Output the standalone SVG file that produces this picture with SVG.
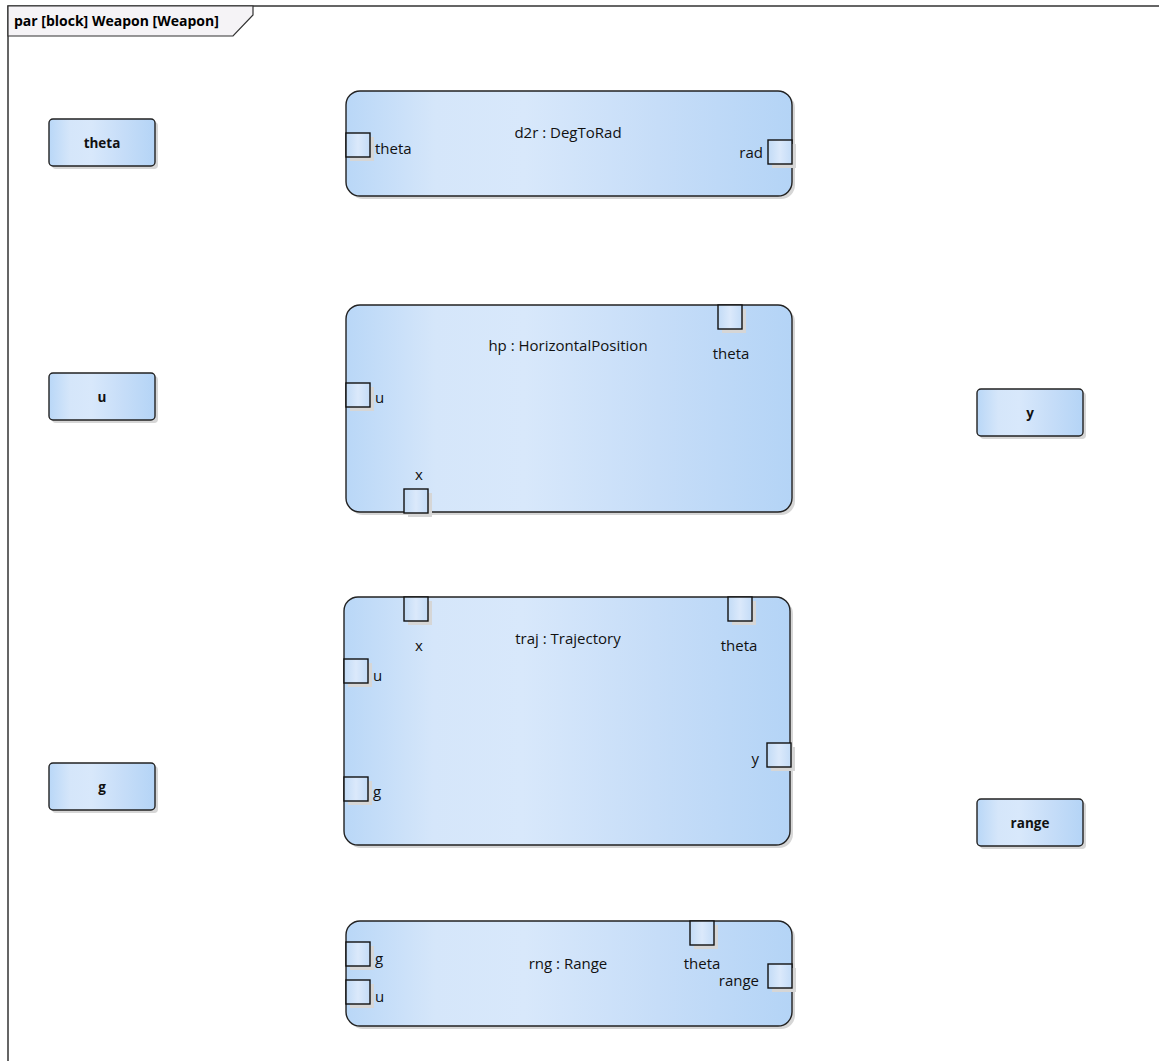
<svg xmlns="http://www.w3.org/2000/svg" width="1159" height="1061" viewBox="0 0 1159 1061">
  <defs>
    <linearGradient id="blockFill" x1="0" y1="0" x2="1" y2="0">
      <stop offset="0" stop-color="#b9d7f7"/>
      <stop offset="0.2" stop-color="#d5e6fa"/>
      <stop offset="0.4" stop-color="#d8e8fb"/>
      <stop offset="0.7" stop-color="#c6ddf8"/>
      <stop offset="1" stop-color="#b4d4f6"/>
    </linearGradient>
    <linearGradient id="portFill" x1="0" y1="0" x2="1" y2="0">
      <stop offset="0" stop-color="#c2dbf6"/>
      <stop offset="0.5" stop-color="#dbe9fb"/>
      <stop offset="1" stop-color="#c4dcf7"/>
    </linearGradient>
  </defs>
  <style>
    .frame { fill: #ffffff; stroke: #333333; stroke-width: 1.5; }
    .tab { fill: #f5f3f6; stroke: #333333; stroke-width: 1.2; }
    .tabText { font-family: "Open Sans", "Liberation Sans", sans-serif; font-size: 14px; font-weight: bold; fill: #000; }
    .shadow { fill: #d6d6d6; }
    .block { fill: url(#blockFill); stroke: #222222; stroke-width: 1.4; }
    .port { fill: url(#portFill); stroke: #111111; stroke-width: 1.4; }
    .title { font-family: "Open Sans", "Liberation Sans", sans-serif; font-size: 15px; fill: #111; text-anchor: middle; }
    .lbl { font-family: "Open Sans", "Liberation Sans", sans-serif; font-size: 15px; fill: #111; }
    .mid { text-anchor: middle; }
    .end { text-anchor: end; }
    .val { font-family: "Open Sans", "Liberation Sans", sans-serif; font-size: 13.5px; font-weight: bold; fill: #111; text-anchor: middle; }
  </style>

  <!-- diagram frame -->
  <rect class="frame" x="8" y="6" width="1170" height="1080"/>
  <polygon class="tab" points="8,6 253,6 253,15 233,36 8,36"/>
  <text class="tabText" x="14" y="26">par [block] Weapon [Weapon]</text>

  <!-- connectors (none drawn) -->
  <g id="connectors"/>

  <!-- value properties -->
  <g id="theta">
    <rect class="shadow" x="52" y="122" width="106" height="47" rx="4"/>
    <rect class="block" x="49" y="119" width="106" height="47" rx="4"/>
    <text class="val" x="102" y="148">theta</text>
  </g>
  <g id="u">
    <rect class="shadow" x="52" y="376" width="106" height="47" rx="4"/>
    <rect class="block" x="49" y="373" width="106" height="47" rx="4"/>
    <text class="val" x="102" y="402">u</text>
  </g>
  <g id="g">
    <rect class="shadow" x="52" y="766" width="106" height="47" rx="4"/>
    <rect class="block" x="49" y="763" width="106" height="47" rx="4"/>
    <text class="val" x="102" y="792">g</text>
  </g>
  <g id="y">
    <rect class="shadow" x="980" y="392" width="106" height="47" rx="4"/>
    <rect class="block" x="977" y="389" width="106" height="47" rx="4"/>
    <text class="val" x="1030" y="418">y</text>
  </g>
  <g id="range">
    <rect class="shadow" x="980" y="802" width="106" height="47" rx="4"/>
    <rect class="block" x="977" y="799" width="106" height="47" rx="4"/>
    <text class="val" x="1030" y="828">range</text>
  </g>

  <!-- constraint property d2r -->
  <g id="d2r">
    <rect class="shadow" x="349" y="94" width="446" height="105" rx="14"/>
    <rect class="block" x="346" y="91" width="446" height="105" rx="14"/>
    <text class="title" x="568" y="138">d2r : DegToRad</text>
    <rect class="shadow" x="350" y="137" width="24" height="24"/>
    <rect class="port" x="346" y="133" width="24" height="24"/>
    <text class="lbl" x="375" y="154">theta</text>
    <rect class="shadow" x="772" y="144" width="24" height="24"/>
    <rect class="port" x="768" y="140" width="24" height="24"/>
    <text class="lbl end" x="763" y="158">rad</text>
  </g>

  <!-- constraint property hp -->
  <g id="hp">
    <rect class="shadow" x="349" y="308" width="446" height="207" rx="14"/>
    <rect class="block" x="346" y="305" width="446" height="207" rx="14"/>
    <text class="title" x="568" y="351">hp : HorizontalPosition</text>
    <rect class="shadow" x="722" y="309" width="24" height="24"/>
    <rect class="port" x="718" y="305" width="24" height="24"/>
    <text class="lbl mid" x="731" y="359">theta</text>
    <rect class="shadow" x="350" y="387" width="24" height="24"/>
    <rect class="port" x="346" y="383" width="24" height="24"/>
    <text class="lbl" x="375" y="403">u</text>
    <rect class="shadow" x="408" y="493" width="24" height="24"/>
    <rect class="port" x="404" y="489" width="24" height="24"/>
    <text class="lbl mid" x="419" y="480">x</text>
  </g>

  <!-- constraint property traj -->
  <g id="traj">
    <rect class="shadow" x="347" y="600" width="446" height="248" rx="14"/>
    <rect class="block" x="344" y="597" width="446" height="248" rx="14"/>
    <text class="title" x="568" y="644">traj : Trajectory</text>
    <rect class="shadow" x="408" y="601" width="24" height="24"/>
    <rect class="port" x="404" y="597" width="24" height="24"/>
    <text class="lbl mid" x="419" y="651">x</text>
    <rect class="shadow" x="732" y="601" width="24" height="24"/>
    <rect class="port" x="728" y="597" width="24" height="24"/>
    <text class="lbl mid" x="739" y="651">theta</text>
    <rect class="shadow" x="348" y="663" width="24" height="24"/>
    <rect class="port" x="344" y="659" width="24" height="24"/>
    <text class="lbl" x="373" y="681">u</text>
    <rect class="shadow" x="348" y="781" width="24" height="24"/>
    <rect class="port" x="344" y="777" width="24" height="24"/>
    <text class="lbl" x="373" y="797">g</text>
    <rect class="shadow" x="771" y="747" width="24" height="24"/>
    <rect class="port" x="767" y="743" width="24" height="24"/>
    <text class="lbl end" x="759" y="764">y</text>
  </g>

  <!-- constraint property rng -->
  <g id="rng">
    <rect class="shadow" x="349" y="924" width="446" height="105" rx="14"/>
    <rect class="block" x="346" y="921" width="446" height="105" rx="14"/>
    <text class="title" x="568" y="969">rng : Range</text>
    <rect class="shadow" x="350" y="946" width="24" height="24"/>
    <rect class="port" x="346" y="942" width="24" height="24"/>
    <text class="lbl" x="375" y="964">g</text>
    <rect class="shadow" x="350" y="984" width="24" height="24"/>
    <rect class="port" x="346" y="980" width="24" height="24"/>
    <text class="lbl" x="375" y="1002">u</text>
    <rect class="shadow" x="694" y="925" width="24" height="24"/>
    <rect class="port" x="690" y="921" width="24" height="24"/>
    <text class="lbl mid" x="702" y="969">theta</text>
    <rect class="shadow" x="772" y="968" width="24" height="24"/>
    <rect class="port" x="768" y="964" width="24" height="24"/>
    <text class="lbl end" x="759" y="986">range</text>
  </g>
</svg>
